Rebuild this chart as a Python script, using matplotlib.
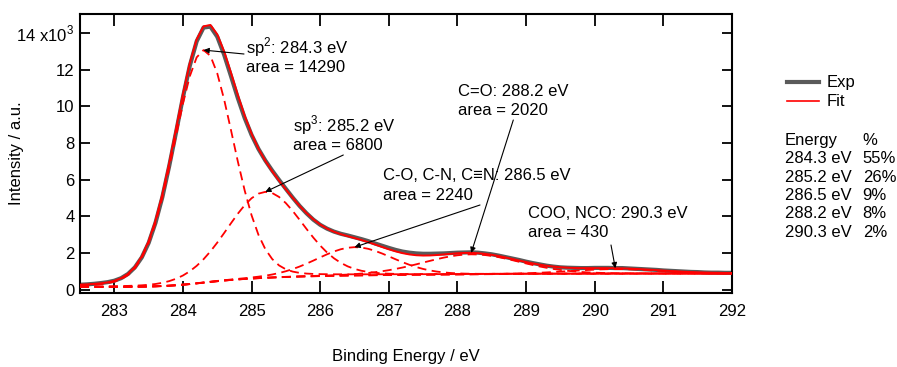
import numpy as np
import matplotlib
matplotlib.use("Agg")
import matplotlib.pyplot as plt
from matplotlib.lines import Line2D

plt.rcParams["font.family"] = ["Liberation Sans", "DejaVu Sans"]
plt.rcParams["mathtext.fontset"] = "custom"
plt.rcParams["mathtext.rm"] = "Liberation Sans"
FS = 12

# Binding energy grid (eV) and measured C 1s spectrum (x10^3 counts)
energy = np.round(np.arange(282.5, 292.05, 0.1), 1)
exp_intensity = [
    0.27, 0.29, 0.32, 0.36, 0.41,
    0.49, 0.63, 0.86, 1.22, 1.76,
    2.55, 3.65, 5.05, 6.75, 8.60,
    10.50, 12.22, 13.55, 14.30, 14.35,
    13.80, 12.82, 11.65, 10.45, 9.36,
    8.44, 7.68, 7.05, 6.50, 5.99,
    5.50, 5.02, 4.57, 4.17, 3.82,
    3.54, 3.33, 3.17, 3.05, 2.96,
    2.86, 2.76, 2.65, 2.52, 2.40,
    2.28, 2.17, 2.08, 2.02, 1.98,
    1.96, 1.96, 1.97, 1.98, 2.00,
    2.02, 2.03, 2.04, 2.02, 1.98,
    1.93, 1.86, 1.78, 1.70, 1.62,
    1.53, 1.45, 1.38, 1.31, 1.26,
    1.22, 1.20, 1.19, 1.18, 1.18,
    1.19, 1.19, 1.19, 1.18, 1.18,
    1.16, 1.14, 1.12, 1.10, 1.08,
    1.05, 1.03, 1.01, 0.99, 0.97,
    0.96, 0.94, 0.93, 0.93, 0.92,
    0.92,
]

# Fitted components
names = ["sp$^{\\mathregular{2}}$", "sp$^{\\mathregular{3}}$",
         "C-O, C-N, C\u2261N", "C=O", "COO, NCO"]
centers = [284.3, 285.2, 286.5, 288.2, 290.3]
areas = [14290, 6800, 2240, 2020, 430]
fwhm = [1.01, 1.30, 1.30, 1.66, 1.54]
lor_frac = 0.1
bg_low, bg_high = 150, 880


def pseudo_voigt(x, c, area, w, m):
    norm = w * ((1 - m) * np.sqrt(np.pi / (4 * np.log(2))) + m * np.pi / 2)
    h = area / norm
    g = np.exp(-4 * np.log(2) * (x - c) ** 2 / w ** 2)
    lz = 1 / (1 + 4 * (x - c) ** 2 / w ** 2)
    return h * ((1 - m) * g + m * lz)


peaks = [pseudo_voigt(energy, c, a, w, lor_frac) / 1000
         for c, a, w in zip(centers, areas, fwhm)]
ptot = np.sum(peaks, axis=0)
cum = np.cumsum(ptot)
bg = (bg_low + (bg_high - bg_low) * cum / cum[-1]) / 1000
fit = bg + ptot
shares = np.array(areas) / np.sum(areas) * 100

W, H = 897, 367
fig = plt.figure(figsize=(W / 100, H / 100), dpi=100)
ax_l, ax_r, ax_t, ax_b = 80, 732, 14, 293
ax = fig.add_axes([ax_l / W, 1 - ax_b / H, (ax_r - ax_l) / W, (ax_b - ax_t) / H])

EXP_C = "#5a5a5a"
ax.plot(energy, exp_intensity, color=EXP_C, lw=3.0, zorder=2)
for p in peaks:
    ax.plot(energy, p + bg, color="red", lw=1.3, dashes=(5, 3), zorder=3)
ax.plot(energy, bg, color="red", lw=1.3, dashes=(5, 3), zorder=3)
ax.plot(energy, fit, color="red", lw=1.4, zorder=4)

ax.set_xlim(282.5, 292)
ax.set_ylim(-0.18, 15.04)
ax.set_xticks(range(283, 293))
yt = list(range(0, 15, 2))
ax.set_yticks(yt)
ax.set_yticklabels([str(v) for v in yt[:-1]] + ["14 x10$^{\\mathregular{3}}$"])
ax.tick_params(axis="x", direction="in", length=8.5, width=1.3, top=True,
               labelsize=FS, pad=8)
ax.tick_params(axis="y", direction="in", length=7, width=1.3, right=True,
               labelsize=FS, pad=4)
for s in ax.spines.values():
    s.set_linewidth(1.5)


def fx(px):
    return (px - ax_l) / (ax_r - ax_l)


def fy(py):
    return (ax_b - py) / (ax_b - ax_t)


def at_center(arr, c):
    return arr[np.argmin(np.abs(energy - c))]


# annotation text blocks: (left px, baseline px line 1, baseline px line 2)
text_pos = [(245.7, 53.0, 71.7), (292.7, 131.0, 150.0), (382.7, 180.0, 200.0),
            (457.7, 95.7, 115.0), (528.3, 218.3, 236.7)]
arrow_start = [(244, 54), (343.3, 155), (480, 205), (513.3, 120), (611, 245)]
tips = [(centers[0], at_center(peaks[0] + bg, centers[0])),
        (centers[1], at_center(peaks[1] + bg, centers[1])),
        (centers[2], at_center(peaks[2] + bg, centers[2])),
        (centers[3], at_center(fit, centers[3])),
        (centers[4], at_center(fit, centers[4]))]

for i in range(5):
    x0, b1, b2 = text_pos[i]
    ax.text(fx(x0), fy(b1), f"{names[i]}: {centers[i]:.1f} eV",
            transform=ax.transAxes, fontsize=FS, va="baseline", ha="left")
    ax.text(fx(x0), fy(b2), f"area = {areas[i]}",
            transform=ax.transAxes, fontsize=FS, va="baseline", ha="left")
    sx, sy = arrow_start[i]
    ax.annotate("", xy=tips[i], xycoords="data",
                xytext=(fx(sx), fy(sy)), textcoords="axes fraction",
                arrowprops=dict(arrowstyle="-|>", color="black", lw=0.8,
                                shrinkA=0, shrinkB=0, mutation_scale=8),
                zorder=5)

# axis titles
fig.text(16.5 / W, 1 - 153 / H, "Intensity / a.u.", rotation=90,
         ha="center", va="center", fontsize=FS)
fig.text(406 / W, 1 - 357 / H, "Binding Energy / eV",
         ha="center", va="center", fontsize=FS)

# legend
fig.add_artist(Line2D([786.7 / W, 819 / W], [1 - 81.7 / H] * 2,
                      color=EXP_C, lw=3.0))
fig.add_artist(Line2D([786.7 / W, 819 / W], [1 - 100.7 / H] * 2,
                      color="red", lw=1.2))
fig.text(827 / W, 1 - 86.7 / H, "Exp", fontsize=FS, va="baseline")
fig.text(827 / W, 1 - 105.7 / H, "Fit", fontsize=FS, va="baseline")

# component summary table
fig.text(785 / W, 1 - 145 / H, "Energy", fontsize=FS, va="baseline")
fig.text(862.7 / W, 1 - 145 / H, "%", fontsize=FS, va="baseline")
row_base = [163.3, 181.7, 200.0, 218.3, 236.7]
for c, s, yb in zip(centers, shares, row_base):
    fig.text(785 / W, 1 - yb / H, f"{c:.1f} eV", fontsize=FS, va="baseline")
    fig.text(862.7 / W, 1 - yb / H, f"{s:.0f}%", fontsize=FS, va="baseline")

fig.savefig("out.png", dpi=100)
